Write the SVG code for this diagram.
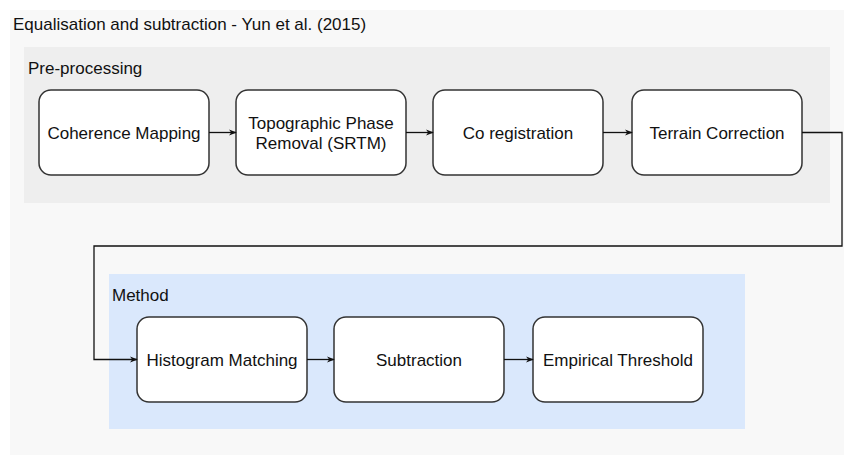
<svg xmlns="http://www.w3.org/2000/svg" width="844" height="455" viewBox="0 0 844 455">
<style>
.t{font-family:"Liberation Sans",Arial,sans-serif;font-size:17px;fill:#111}
.n rect{fill:#fff;stroke:#333;stroke-width:1.5}
.n text{font-family:"Liberation Sans",Arial,sans-serif;font-size:17px;fill:#111;text-anchor:middle}
.c path{fill:none;stroke:#111;stroke-width:1.3}
</style>
<defs>
<marker id="a" viewBox="0 0 10 10" refX="9" refY="5" markerWidth="8" markerHeight="8" orient="auto" markerUnits="userSpaceOnUse">
<path d="M0,1 L10,5 L0,9 L3,5 Z" fill="#111"/>
</marker>
</defs>
<rect x="0" y="0" width="844" height="455" fill="#ffffff"/>
<rect x="10" y="10" width="834" height="445" fill="#f8f8f8"/>
<text class="t" x="13" y="30">Equalisation and subtraction - Yun et al. (2015)</text>
<g id="pre">
<rect x="24" y="47" width="806" height="156" fill="#eeeeee"/>
<text class="t" x="28" y="74">Pre-processing</text>
</g>
<g id="method">
<rect x="109" y="274" width="636" height="155" fill="#dae8fc"/>
<text class="t" x="112" y="301">Method</text>
</g>
<g id="n1" class="n"><rect x="39" y="90" width="170" height="85" rx="12"/><text x="124" y="139">Coherence Mapping</text></g>
<g id="n2" class="n"><rect x="236" y="90" width="170" height="85" rx="12"/><text x="321" y="129">Topographic Phase</text><text x="321" y="149">Removal (SRTM)</text></g>
<g id="n3" class="n"><rect x="433" y="90" width="170" height="85" rx="12"/><text x="518" y="139">Co registration</text></g>
<g id="n4" class="n"><rect x="632" y="90" width="170" height="85" rx="12"/><text x="717" y="139">Terrain Correction</text></g>
<g id="n5" class="n"><rect x="137" y="317" width="170" height="85" rx="12"/><text x="222" y="366">Histogram Matching</text></g>
<g id="n6" class="n"><rect x="334" y="317" width="170" height="85" rx="12"/><text x="419" y="366">Subtraction</text></g>
<g id="n7" class="n"><rect x="533" y="317" width="170" height="85" rx="12"/><text x="618" y="366">Empirical Threshold</text></g>
<g id="connectors" class="c">
<path d="M209,132.5 H236" marker-end="url(#a)"/>
<path d="M406,132.5 H433" marker-end="url(#a)"/>
<path d="M603,132.5 H632" marker-end="url(#a)"/>
<path d="M802,132.5 H842 V246 H94 V359.5 H137" marker-end="url(#a)"/>
<path d="M307,359.5 H334" marker-end="url(#a)"/>
<path d="M504,359.5 H533" marker-end="url(#a)"/>
</g>
</svg>
